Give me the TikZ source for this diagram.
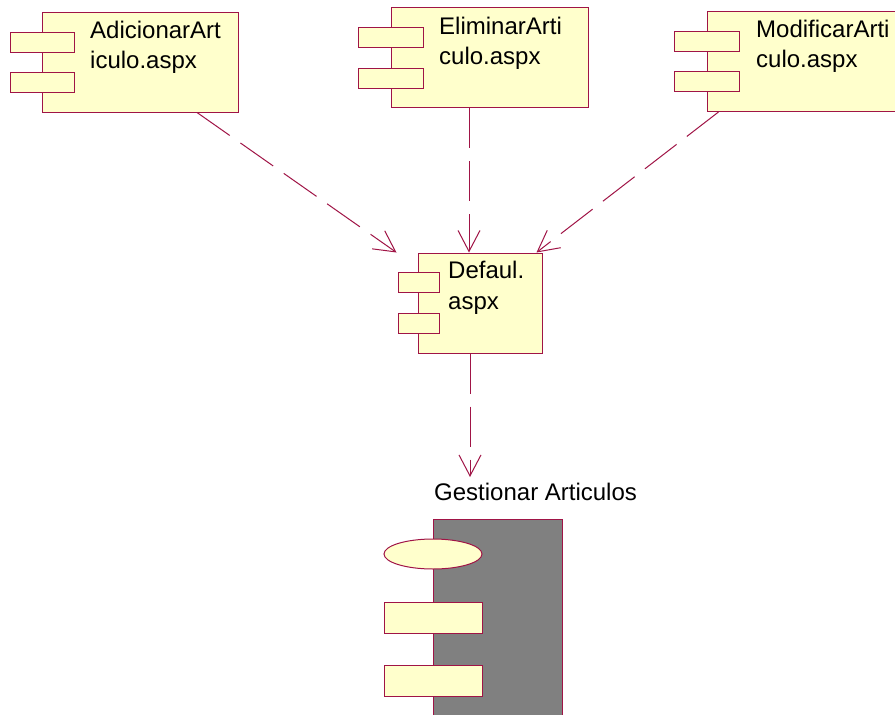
\documentclass[tikz,border=0pt]{standalone}
\usepackage{fontspec}
\setmainfont{Liberation Sans}
\usetikzlibrary{arrows.meta,shapes.geometric}
\definecolor{umlline}{RGB}{160,20,70}
\definecolor{umlfill}{RGB}{255,255,204}
\definecolor{umlgray}{RGB}{128,128,128}
\begin{document}
\begin{tikzpicture}[x=1pt,y=-1pt,
  comp/.style={draw=umlline,fill=umlfill,line width=1pt,inner sep=0pt,minimum width=#1,minimum height=100pt},
  port/.style={draw=umlline,fill=umlfill,line width=1pt,inner sep=0pt,minimum height=20pt,minimum width=#1},
  lbl/.style={anchor=base west,inner sep=0pt,font=\fontsize{24}{30}\selectfont},
  dep/.style={draw=umlline,line width=1pt,dash pattern=on 40pt off 13pt,
    -{Straight Barb[length=21pt,width=22pt,line width=1pt]}}]
\clip (0,0) rectangle (895,715);
\fill[white] (0,0) rectangle (895,715);
% AdicionarArticulo
\node[comp=196pt] (c1) at (140,62) {};
\node[port=64pt] (c1p1) at (42,42) {};
\node[port=64pt] (c1p2) at (42,82) {};
\node[lbl] (c1t1) at (90,38) {AdicionarArt};
\node[lbl] (c1t2) at (90,68) {iculo.aspx};
% EliminarArticulo
\node[comp=197pt] (c2) at (489.5,57.5) {};
\node[port=65pt] (c2p1) at (390.5,37.5) {};
\node[port=65pt] (c2p2) at (390.5,78) {};
\node[lbl] (c2t1) at (439,34) {EliminarArti};
\node[lbl] (c2t2) at (439,64) {culo.aspx};
% ModificarArticulo
\node[comp=197pt] (c3) at (805.5,61.5) {};
\node[port=65pt] (c3p1) at (707,41.5) {};
\node[port=65pt] (c3p2) at (707,81.5) {};
\node[lbl] (c3t1) at (756,37) {ModificarArti};
\node[lbl] (c3t2) at (756,67) {culo.aspx};
% Defaul.aspx
\node[comp=124pt] (def) at (480,303) {};
\node[port=41pt] (defp1) at (418.5,282.5) {};
\node[port=41pt] (defp2) at (418.5,323.5) {};
\node[lbl] (deft1) at (448,278) {Defaul.};
\node[lbl] (deft2) at (448,309) {aspx};
% Gestionar Articulos subsystem
\node[lbl] (gl) at (434,500) {Gestionar Articulos};
\node[draw=umlline,fill=umlgray,line width=1pt,inner sep=0pt,minimum width=129pt,minimum height=260pt,anchor=north west] (gs) at (433,519) {};
\node[ellipse,draw=umlline,fill=umlfill,line width=1pt,inner sep=0pt,minimum width=98pt,minimum height=30pt] (gse) at (433,554) {};
\node[draw=umlline,fill=umlfill,line width=1pt,inner sep=0pt,minimum width=98pt,minimum height=31pt] (gsr1) at (433,617.5) {};
\node[draw=umlline,fill=umlfill,line width=1pt,inner sep=0pt,minimum width=98pt,minimum height=31pt] (gsr2) at (433,680.5) {};
\coordinate (gtip) at (470,477);
% dependencies
\draw[dep] ([xshift=57pt]c1.south) -- ([xshift=-21pt]def.north west);
\draw[dep] ([xshift=-20.5pt]c2.south) -- ([xshift=-11pt]def.north);
\draw[dep] ([xshift=12pt]c3.south west) -- ([xshift=-6pt]def.north east);
\draw[dep] ([xshift=-10pt]def.south) -- (gtip);
\end{tikzpicture}
\end{document}
